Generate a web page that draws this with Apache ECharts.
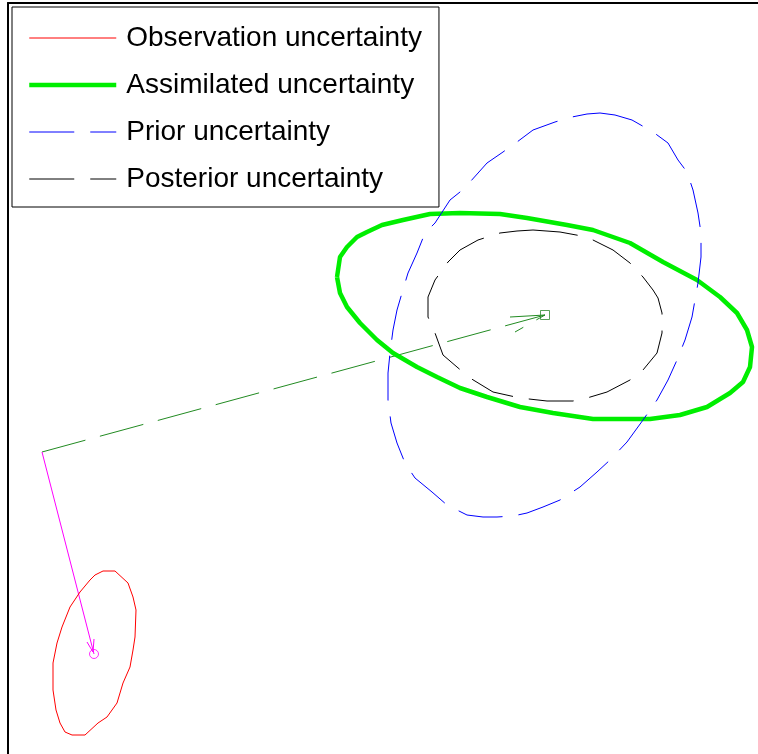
<!DOCTYPE html>
<html>
<head>
<meta charset="utf-8">
<script src="https://cdn.jsdelivr.net/npm/echarts@6/dist/echarts.min.js"></script>
<style>
html,body{margin:0;padding:0;background:#fff;}
#chart{width:758px;height:754px;}
</style>
</head>
<body>
<div id="chart"></div>
<script>
// Series names
const seriesNames = ['Observation uncertainty', 'Assimilated uncertainty', 'Prior uncertainty', 'Posterior uncertainty'];

// Outline points (plot units)
const observationOutline = [
  [103,571],[115,571],[128,583],[133,597],[136,610],[135,637],[133,650],[130,667],[123,683],
  [117,703],[107,717],[98,723],[85,735],[72,735],[65,732],[60,723],[56,710],[53,690],[53,663],
  [57,643],[62,627],[70,607],[80,592],[90,580],[95,575],[103,571]
];
const assimilatedOutline = [
  [337,277],[340,257],[347,247],[357,237],[367,232],[382,225],[403,220],[430,214],[460,213],
  [500,214],[527,218],[567,225],[593,230],[630,243],[663,262],[697,280],[720,297],[737,313],
  [747,330],[752,347],[750,367],[743,382],[730,393],[707,407],[680,415],[650,419],[593,419],
  [553,413],[520,407],[487,397],[460,388],[437,377],[417,367],[393,353],[377,340],[360,323],
  [347,307],[340,293],[337,277]
];
const priorOutline = [
  [600,113],[615,115],[632,120],[653,132],[668,143],[678,160],[687,172],[693,190],[698,213],
  [701,233],[701,257],[698,283],[692,317],[685,340],[677,360],[668,380],[657,400],[643,420],
  [627,442],[610,460],[597,472],[580,487],[560,500],[543,507],[527,513],[513,516],[497,517],
  [483,517],[467,515],[447,505],[432,492],[415,478],[405,463],[397,443],[391,423],[388,400],
  [388,373],[390,353],[393,330],[397,310],[402,293],[408,273],[417,253],[425,233],[435,223],
  [450,200],[460,192],[470,182],[487,163],[503,152],[517,142],[533,130],[555,122],[572,117],
  [587,114],[600,113]
];
const posteriorOutline = [
  [533,230],[560,232],[587,237],[613,250],[630,263],[643,277],[653,290],[658,298],[662,313],
  [662,333],[657,353],[643,370],[630,380],[607,392],[587,398],[573,401],[547,401],[520,398],
  [493,392],[470,378],[457,367],[443,355],[435,333],[428,317],[428,297],[435,280],[448,262],
  [460,250],[478,240],[500,233],[517,231],[533,230]
];

// Displacement arrows
const priorToPosterior = [[42,452],[545,315]];
const priorToPosteriorHead = [[510,317],[545,315],[515,332]];
const startToObservation = [[42,452],[94,654]];
const startToObservationHead = [[87,642],[93,652],[94,639]];
const observationCenter = [[94,654]];
const posteriorCenter = [[545,315]];

const font = "'Liberation Sans', Arial, sans-serif";

function outline(name, data, color, width, dash) {
  return {
    name: name, type: 'line', data: data, symbol: 'none', smooth: false,
    lineStyle: {color: color, width: width, type: dash || 'solid'},
    itemStyle: {color: color},
    z: 3
  };
}
function plain(data, color, width, dash) {
  return {
    type: 'line', data: data, symbol: 'none', silent: true,
    lineStyle: {color: color, width: width, type: dash || 'solid'},
    itemStyle: {color: color}, z: 2
  };
}
const legendWidths = [1, 4.5, 1, 1];

const chart = echarts.init(document.getElementById('chart'), null, {renderer: 'canvas'});
chart.setOption({
  animation: false,
  backgroundColor: '#fff',
  grid: {show: false, left: 8, top: 3, right: 0, bottom: 0, outerBoundsMode: 'none', containLabel: false},
  xAxis: {type: 'value', min: 8, max: 758, position: 'top',
    axisLine: {show: true, onZero: false, lineStyle: {color: '#000', width: 2}},
    axisTick: {show: false}, axisLabel: {show: false}, splitLine: {show: false}},
  yAxis: {type: 'value', min: 3, max: 754, inverse: true, position: 'left',
    axisLine: {show: true, onZero: false, lineStyle: {color: '#000', width: 2}},
    axisTick: {show: false}, axisLabel: {show: false}, splitLine: {show: false}},
  legend: {
    data: seriesNames.map((n, i) => ({name: n, lineStyle: {width: legendWidths[i]}})),
    orient: 'vertical', left: 12, top: 7,
    padding: [17, 17, 14, 15],
    itemGap: 19, itemWidth: 87, itemHeight: 28,
    itemStyle: {opacity: 0},
    backgroundColor: '#fff', borderColor: '#000', borderWidth: 1,
    textStyle: {fontSize: 28, color: '#000', fontFamily: font, padding: [0, 0, 0, 5]},
    selectedMode: false
  },
  series: [
    plain(priorToPosterior, '#228b22', 1, [45, 15]),
    plain(priorToPosteriorHead, '#228b22', 1, [45, 15]),
    plain(startToObservation, '#ff00ff', 1),
    plain(startToObservationHead, '#ff00ff', 1),
    outline(seriesNames[0], observationOutline, '#ff0000', 1),
    outline(seriesNames[1], assimilatedOutline, '#00ee00', 4.5),
    outline(seriesNames[2], priorOutline, '#0000ff', 1, [45, 16]),
    outline(seriesNames[3], posteriorOutline, '#000000', 1, [45, 16]),
    {type: 'scatter', data: observationCenter, symbol: 'circle', symbolSize: 9,
     itemStyle: {color: 'rgba(0,0,0,0)', borderColor: '#ff00ff', borderWidth: 1}, silent: true, z: 4},
    {type: 'scatter', data: posteriorCenter, symbol: 'rect', symbolSize: 9,
     itemStyle: {color: 'rgba(0,0,0,0)', borderColor: '#2e8b2e', borderWidth: 1}, silent: true, z: 4}
  ]
});
</script>
</body>
</html>
